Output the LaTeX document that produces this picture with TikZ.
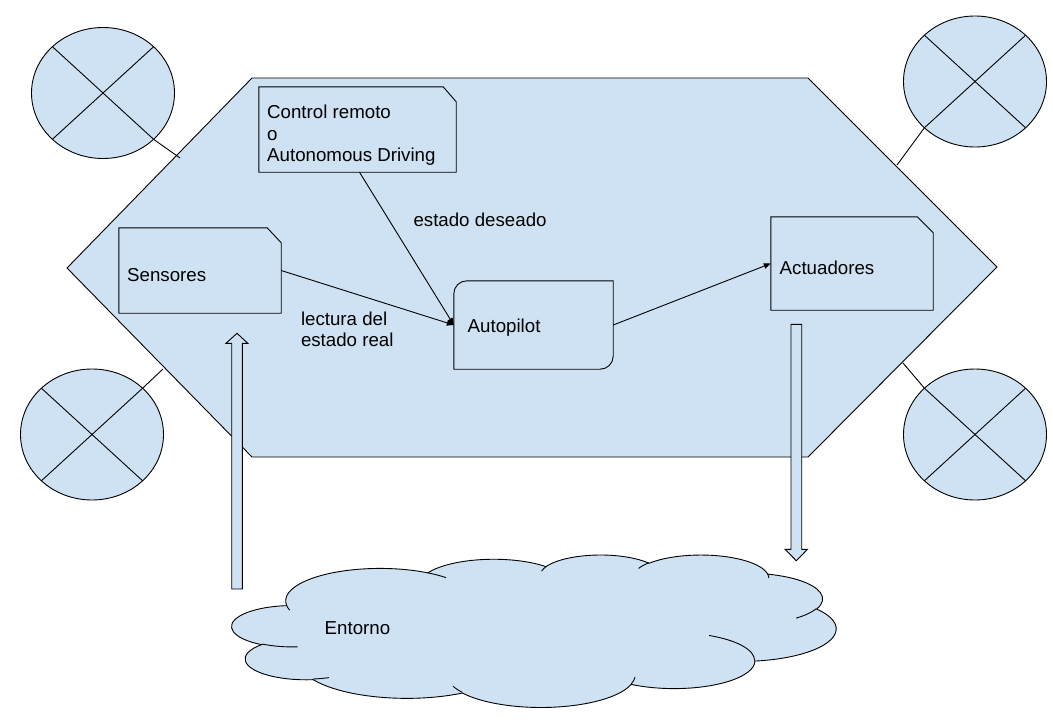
\documentclass[tikz,border=0pt]{standalone}
\usepackage{fontspec}
\setmainfont{Liberation Sans}
\usetikzlibrary{arrows.meta,shapes.geometric,calc}
\definecolor{lblue}{HTML}{CFE2F3}
\def\csx{13.981}\def\csy{3.5285}\def\cxo{232}\def\cyo{554.5}
\tikzset{
  ln/.style={draw=black, line width=0.9pt},
  shp/.style={ln, fill=lblue, line join=miter},
  conn/.style={ln, -{Triangle[length=7pt,width=5.5pt]}},
  circ/.style={ellipse, shp, minimum width=143pt, minimum height=131pt, inner sep=0pt},
  boxnode/.style={inner sep=0pt, draw=none},
  txt/.style={font=\fontsize{18.7}{21.7}\selectfont, inner sep=0pt, anchor=base west},
  cloudarc/.style n args={4}{x radius={#1*\csx}, y radius={#2*\csy},
    start angle={atan2(#1*sin(#3),#2*cos(#3))},
    delta angle={mod(atan2(#1*sin(#3+#4),#2*cos(#3+#4))-atan2(#1*sin(#3),#2*cos(#3))+720,360)}}
}
\begin{document}
\begin{tikzpicture}[x=1pt, y=-1pt]
\fill[white] (0,0) rectangle (1053,723);
\useasboundingbox (0,0) rectangle (1053,723);

% main hexagon
\draw[shp] (252,78) -- (808,78) -- (997,267) -- (808,457) -- (252,457) -- (67,268) -- cycle;

% corner circles
\node[circ] (c1) at (103,93) {};
\node[circ] (c2) at (92,434.5) {};
\node[circ] (c3) at (975,81.5) {};
\node[circ] (c4) at (975,434.5) {};
\foreach \c in {c1,c2,c3,c4}{
  \draw[ln] ($(\c)+(-50.6,-46.3)$) -- ($(\c)+(50.6,46.3)$);
  \draw[ln] ($(\c)+(50.6,-46.3)$) -- ($(\c)+(-50.6,46.3)$);
}
\coordinate (h1) at (180,158);
\coordinate (h2) at (163,369);
\coordinate (h3) at (897,165);
\coordinate (h4) at (903,363);
\draw[ln] ($(c1)+(50.6,46.3)$) -- (h1);
\draw[ln] ($(c2)+(50.6,-46.3)$) -- (h2);
\draw[ln] ($(c3)+(-50.6,46.3)$) -- (h3);
\draw[ln] ($(c4)+(-50.6,-46.3)$) -- (h4);

% boxes
\node[boxnode, minimum width=197pt, minimum height=85pt] (ctl) at (357.5,129.5) {};
\node[boxnode, minimum width=162pt, minimum height=85pt] (sen) at (200,270.5) {};
\node[boxnode, minimum width=162pt, minimum height=93pt] (act) at (852,263.5) {};
\node[boxnode, minimum width=159pt, minimum height=88pt] (ap) at (533.5,325) {};

\draw[shp] (ctl.south west) -- (ctl.north west) -- ([xshift=-13pt]ctl.north east) -- ([yshift=-15pt]ctl.north east) -- (ctl.south east) -- cycle;
\draw[shp] (sen.south west) -- (sen.north west) -- ([xshift=-14pt]sen.north east) -- ([yshift=-15pt]sen.north east) -- (sen.south east) -- cycle;
\draw[shp] (act.south west) -- (act.north west) -- ([xshift=-16pt]act.north east) -- ([yshift=-16pt]act.north east) -- (act.south east) -- cycle;
\draw[shp] ([xshift=13pt]ap.north west) -- (ap.north east) -- ([yshift=13pt]ap.south east)
  arc[start angle=0, end angle=-90, radius=13pt] -- (ap.south west) -- ([yshift=-13pt]ap.north west)
  arc[start angle=180, end angle=90, radius=13pt] -- cycle;

% texts
\node[txt] (tctl) at (267,118.3) {\begin{tabular}[t]{@{}l@{}}Control remoto\\o\\Autonomous Driving\end{tabular}};
\node[txt] (tsen) at (127,281.5) {Sensores};
\node[txt] (tact) at (779.5,274) {Actuadores};
\node[txt] (tap) at (467.5,332) {Autopilot};
\node[txt] (tdes) at (413.3,226) {estado deseado};
\node[txt] (tlec) at (300.8,325) {\begin{tabular}[t]{@{}l@{}}lectura del\\estado real\end{tabular}};

% connectors
\draw[conn] (sen.east) -- (ap.west);
\draw[conn] ([xshift=2pt]ctl.south) -- (ap.west);
\draw[conn] (ap.east) -- (act.west);

% cloud
\draw[shp] (\cxo+3.900*\csx, \cyo+14.370*\csy)
  arc[cloudarc={6.753}{9.190}{-190.4875}{123.7805}]
  arc[cloudarc={5.333}{7.267}{-144.1024}{89.9452}]
  arc[cloudarc={4.365}{5.945}{-145.8079}{99.7230}]
  arc[cloudarc={4.857}{6.595}{-130.9861}{117.2417}]
  arc[cloudarc={5.333}{7.273}{-78.7089}{109.0269}]
  arc[cloudarc={6.775}{9.220}{-46.2673}{130.2690}]
  arc[cloudarc={5.785}{7.867}{0.6250}{114.0333}]
  arc[cloudarc={6.752}{9.215}{22.4516}{115.1726}]
  arc[cloudarc={7.720}{10.543}{66.2426}{75.7110}]
  arc[cloudarc={4.360}{5.918}{-274.9421}{146.7356}]
  arc[cloudarc={4.345}{5.945}{-246.8285}{152.5189}]
  -- cycle;
\draw[ln]
  (\cxo+4.693*\csx, \cyo+26.177*\csy) arc[cloudarc={4.345}{5.945}{86.742}{26.4295}]
  (\cxo+6.928*\csx, \cyo+34.899*\csy) arc[cloudarc={4.360}{5.918}{73.6105}{11.4475}]
  (\cxo+16.478*\csx, \cyo+39.090*\csy) arc[cloudarc={6.752}{9.215}{137.6242}{14.0811}]
  (\cxo+28.827*\csx, \cyo+34.751*\csy) arc[cloudarc={6.752}{9.215}{6.4533}{15.9984}]
  (\cxo+34.129*\csx, \cyo+22.954*\csy) arc[cloudarc={5.785}{7.867}{-70.2924}{70.9174}]
  (\cxo+41.798*\csx, \cyo+15.354*\csy) arc[cloudarc={5.333}{7.273}{30.3180}{27.7515}]
  (\cxo+38.324*\csx, \cyo+5.426*\csy) arc[cloudarc={4.857}{6.595}{-13.7443}{14.8589}]
  (\cxo+29.078*\csx, \cyo+3.952*\csy) arc[cloudarc={4.857}{6.595}{-149.1815}{18.1954}]
  (\cxo+22.141*\csx, \cyo+4.720*\csy) arc[cloudarc={4.365}{5.945}{-163.4943}{17.6864}]
  (\cxo+14.000*\csx, \cyo+5.192*\csy) arc[cloudarc={6.753}{9.190}{-66.7070}{12.3194}]
  (\cxo+4.127*\csx, \cyo+15.789*\csy) arc[cloudarc={6.753}{9.190}{157.6544}{11.8582}];
\node[txt] (tent) at (324.5,634.3) {Entorno};

% block arrows
\draw[shp] (231.7,589) -- (231.7,343.3) -- (226,343.3) -- (237,333.3) -- (247.8,343.3) -- (242.3,343.3) -- (242.3,589) -- cycle;
\draw[shp] (791,324.3) -- (791,549.3) -- (785,549.3) -- (796.3,560.7) -- (807.5,549.3) -- (801.7,549.3) -- (801.7,324.3) -- cycle;
\end{tikzpicture}
\end{document}
